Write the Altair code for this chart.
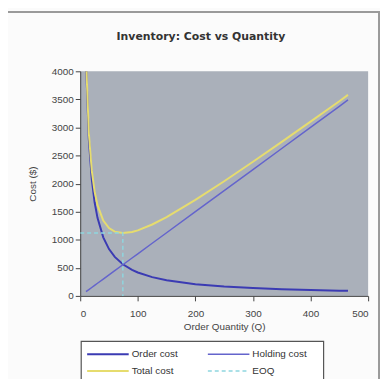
import altair as alt
import pandas as pd

# Data
q = [10, 15, 20, 25, 30, 40, 50, 60, 74, 90, 100, 125, 150, 200, 250, 300, 350, 400, 450, 465]
order_cost = [4170, 2780, 2085, 1668, 1390, 1043, 834, 695, 564, 463, 417, 334, 278, 209, 167, 139, 119, 104, 93, 90]
holding_cost = [75, 113, 150, 188, 225, 300, 375, 450, 555, 675, 750, 938, 1125, 1500, 1875, 2250, 2625, 3000, 3375, 3490]
total_cost = [4245, 2893, 2235, 1856, 1615, 1343, 1209, 1145, 1119, 1138, 1167, 1272, 1403, 1709, 2042, 2389, 2744, 3104, 3468, 3580]
eoq_q = [0, 74, 74]
eoq_cost = [1120, 1120, 0]

title_text = "Inventory: Cost vs Quantity"
series_names = ["Order cost", "Holding cost", "Total cost", "EOQ"]
series_colors = ["#3b3bb3", "#6464cc", "#e6dc6e", "#8fd6df"]
series_widths = [2, 1.5, 2, 1.5]

x_ticks = [0, 100, 200, 300, 400, 500]
y_ticks = [0, 500, 1000, 1500, 2000, 2500, 3000, 3500, 4000]

df = pd.DataFrame({"Q": q, "Order cost": order_cost,
                   "Holding cost": holding_cost, "Total cost": total_cost})
df_eoq = pd.DataFrame({"Q": eoq_q, "Cost": eoq_cost, "i": [0, 1, 2]})

x_enc = alt.X("Q:Q", scale=alt.Scale(domain=[0, 500], nice=False),
              axis=alt.Axis(values=x_ticks, title="Order Quantity (Q)", grid=False,
                            labelPadding=8, titlePadding=3, format="d"))
y_axis = alt.Axis(values=y_ticks, title="Cost ($)", grid=False, titlePadding=14, format="d")

W, H = 291, 227
one = pd.DataFrame({"a": [0]})

# outer chart-area frame
frame = alt.Chart(one).mark_rect(
    filled=False, stroke="#9a9a9a", strokeWidth=2
).encode(x=alt.value(-74), x2=alt.value(302), y=alt.value(-60), y2=alt.value(330))

title = alt.Chart(one).mark_text(
    text=title_text, fontSize=11, fontWeight="bold", font="DejaVu Sans",
    color="#333", align="center", baseline="middle"
).encode(x=alt.value(122), y=alt.value(-35))

layers = [frame, title]
for name, color, sw in zip(series_names[:3], series_colors[:3], series_widths[:3]):
    layers.append(
        alt.Chart(df).mark_line(color=color, strokeWidth=sw, clip=True).encode(
            x=x_enc,
            y=alt.Y(f"{name}:Q", scale=alt.Scale(domain=[0, 4000], nice=False), axis=y_axis),
        )
    )

layers.append(
    alt.Chart(df_eoq).mark_line(color=series_colors[3], strokeWidth=series_widths[3],
                                strokeDash=[4, 3], clip=True).encode(
        x=x_enc,
        y=alt.Y("Cost:Q", scale=alt.Scale(domain=[0, 4000], nice=False), axis=y_axis),
        order="i:O",
    )
)

# legend box
layers.append(
    alt.Chart(one).mark_rect(fill="white", stroke="#555", strokeWidth=1.2).encode(
        x=alt.value(1), x2=alt.value(246), y=alt.value(273), y2=alt.value(330))
)
leg_pos = [(7, 286), (129, 286), (7, 303), (129, 303)]
for (lx, ly), name, color, sw, dash in zip(leg_pos, series_names, series_colors,
                                           series_widths, [None, None, None, [4, 3]]):
    kw = dict(color=color, strokeWidth=sw)
    if dash:
        kw["strokeDash"] = dash
    layers.append(alt.Chart(one).mark_rule(**kw).encode(
        x=alt.value(lx), x2=alt.value(lx + 42), y=alt.value(ly)))
    layers.append(alt.Chart(one).mark_text(
        text=name, align="left", baseline="middle", fontSize=10,
        font="Liberation Sans", color="#333").encode(
        x=alt.value(lx + 45), y=alt.value(ly)))

chart = alt.layer(*layers).properties(
    width=W, height=H,
    autosize=alt.AutoSizeParams(type="none"),
    padding={"left": 73, "top": 62, "right": 12, "bottom": 82},
    background="#fbfbfb",
).configure_view(fill="#aab0ba", stroke=None).configure_axis(
    labelFont="Liberation Sans", labelFontSize=10, labelColor="#444",
    titleFont="Liberation Sans", titleFontSize=10, titleFontWeight="normal", titleColor="#444",
    tickColor="#444", domainColor="#444", tickSize=5,
)

chart.save("out.html", embed_options={"renderer": "svg", "actions": False})
